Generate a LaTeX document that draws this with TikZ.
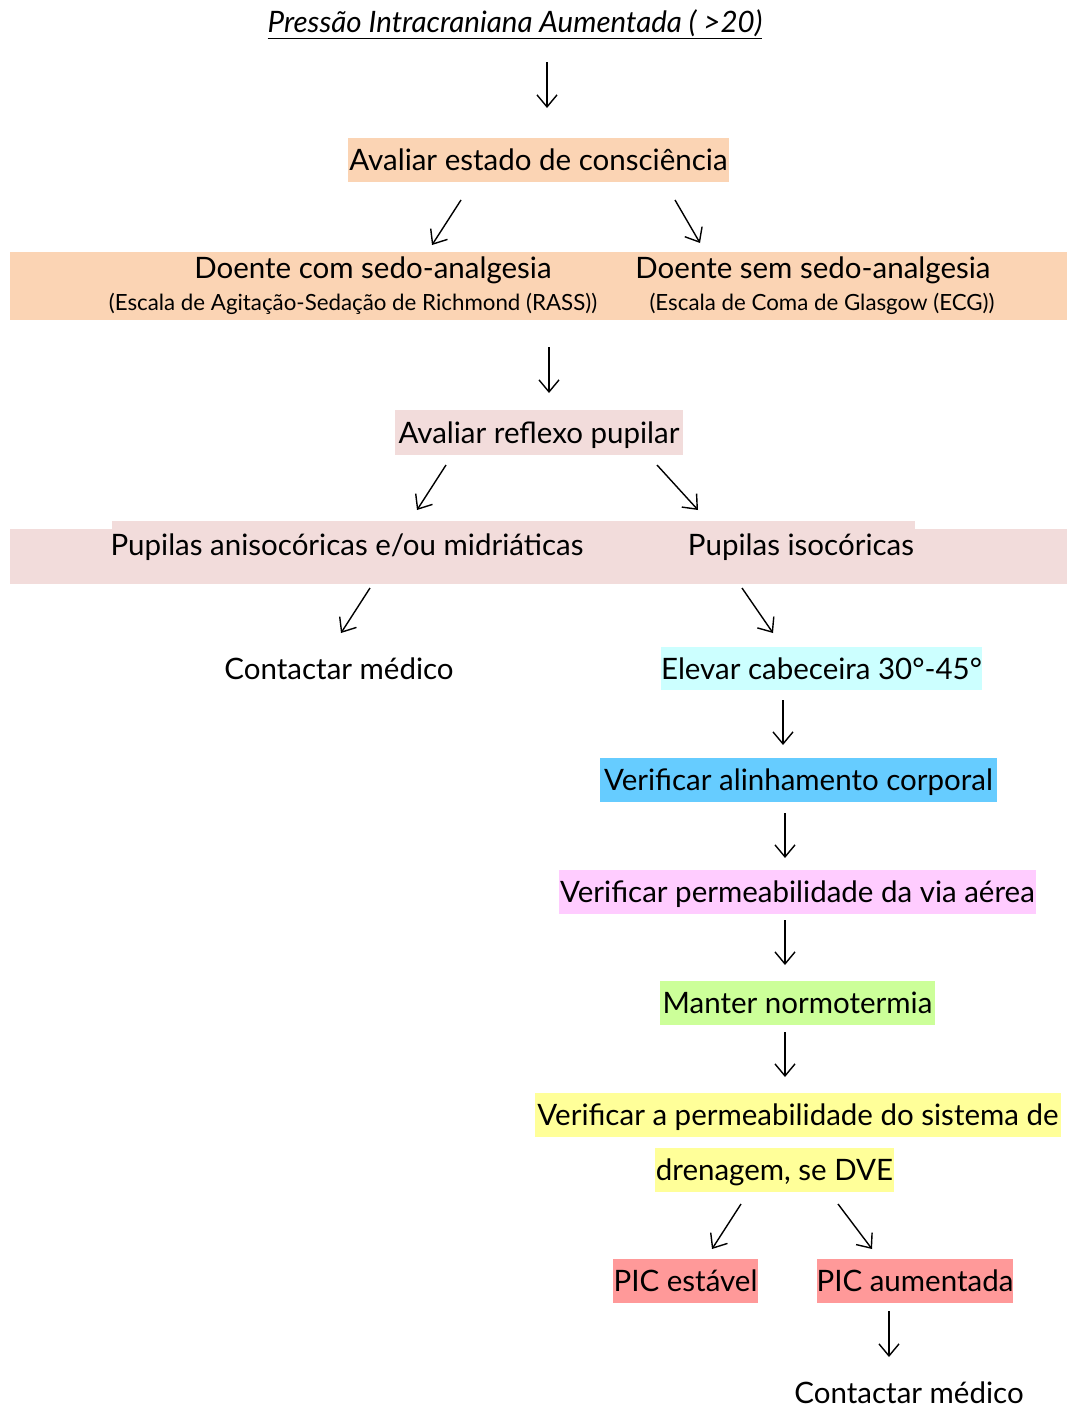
\documentclass[tikz,border=0pt]{standalone}
\usepackage{fontspec}
\setmainfont{Lato}
\usetikzlibrary{arrows.meta}
\definecolor{peach}{HTML}{FBD4B4}
\definecolor{rose}{HTML}{F2DCDB}
\definecolor{cyanl}{HTML}{CCFFFF}
\definecolor{bluel}{HTML}{66CCFF}
\definecolor{magl}{HTML}{FFCCFF}
\definecolor{greenl}{HTML}{CCFF99}
\definecolor{yell}{HTML}{FFFF99}
\definecolor{redl}{HTML}{FF9999}
\tikzset{
  main/.style={inner sep=0pt, font=\fontsize{29.5}{34}\selectfont, text height=22pt, text depth=1pt},
  sub/.style={inner sep=0pt, font=\fontsize{22.3}{26}\selectfont, text height=16pt, text depth=1pt},
  hbox/.style={main, minimum height=44pt},
  arr/.style={line width=1.4pt, -{Straight Barb[length=12pt,width=20pt,line width=1.4pt]}}
}
\begin{document}
\begin{tikzpicture}[x=1pt,y=-1pt]
\useasboundingbox (0,0) rectangle (1071,1408);
% title
\node[inner sep=0pt, font=\fontsize{29.5}{34}\selectfont\itshape, text height=22pt, text depth=1pt] (title) at (515,22) {\underline{Pressão Intracraniana Aumentada ( >20)}};
\coordinate (a1s) at (547,62); \coordinate (a1e) at (547,108);
\draw[arr] (a1s) -- (a1e);
% consciousness
\node[hbox, fill=peach, minimum width=381pt] (cons) at (538.5,160) {Avaliar estado de consciência};
\coordinate (a2s) at (461,200); \coordinate (a2e) at (432,245);
\coordinate (a3s) at (675,200); \coordinate (a3e) at (700,243);
\draw[arr] (a2s) -- (a2e);
\draw[arr] (a3s) -- (a3e);
% peach band
\node[inner sep=0pt, fill=peach, minimum width=1057pt, minimum height=68pt] (band1) at (538.5,286) {};
\node[main] (t1) at (373,268) {Doente com sedo-analgesia};
\node[sub] (s1) at (353,303) {(Escala de Agitação-Sedação de Richmond (RASS))};
\node[main] (t2) at (813,268) {Doente sem sedo-analgesia};
\node[sub] (s2) at (822,303) {(Escala de Coma de Glasgow (ECG))};
\coordinate (a4s) at (549,347); \coordinate (a4e) at (549,393);
\draw[arr] (a4s) -- (a4e);
% pupil reflex
\node[hbox, fill=rose, minimum width=288pt, minimum height=45pt] (refl) at (539,432.5) {Avaliar reflexo pupilar};
\coordinate (a5s) at (446,465); \coordinate (a5e) at (417,510);
\coordinate (a6s) at (657,465); \coordinate (a6e) at (698,510);
\draw[arr] (a5s) -- (a5e);
\draw[arr] (a6s) -- (a6e);
% pink band
\fill[rose] (10,529) rectangle (1067,584);
\fill[rose] (112,521) rectangle (915,584);
\node[main] (p1) at (347,545) {Pupilas anisocóricas e/ou midriáticas};
\node[main] (p2) at (801,545) {Pupilas isocóricas};
\coordinate (a7s) at (370,588); \coordinate (a7e) at (341,633);
\coordinate (a8s) at (742,588); \coordinate (a8e) at (773,633);
\draw[arr] (a7s) -- (a7e);
\draw[arr] (a8s) -- (a8e);
\node[main] (contact1) at (339,669) {Contactar médico};
% right column
\node[hbox, fill=cyanl, minimum width=315pt, minimum height=43pt] (elev) at (821.5,668.5) {Elevar cabeceira 30°-45°};
\coordinate (a9s) at (783,700); \coordinate (a9e) at (783,745);
\draw[arr] (a9s) -- (a9e);
\node[hbox, fill=bluel, minimum width=397pt] (alin) at (798.5,780) {Verificar alinhamento corporal};
\coordinate (a10s) at (785,813); \coordinate (a10e) at (785,858);
\draw[arr] (a10s) -- (a10e);
\node[hbox, fill=magl, minimum width=477pt] (perm) at (797.5,892) {Verificar permeabilidade da via aérea};
\coordinate (a11s) at (785,920); \coordinate (a11e) at (785,965);
\draw[arr] (a11s) -- (a11e);
\node[hbox, fill=greenl, minimum width=275pt] (norm) at (797.5,1003) {Manter normotermia};
\coordinate (a12s) at (785,1032); \coordinate (a12e) at (785,1077);
\draw[arr] (a12s) -- (a12e);
\node[hbox, fill=yell, minimum width=526pt] (dren1) at (798,1115) {Verificar a permeabilidade do sistema de};
\node[hbox, fill=yell, minimum width=239pt] (dren2) at (774.5,1170) {drenagem, se DVE};
\coordinate (a13s) at (741,1204); \coordinate (a13e) at (712,1249);
\coordinate (a14s) at (838,1204); \coordinate (a14e) at (872,1249);
\draw[arr] (a13s) -- (a13e);
\draw[arr] (a14s) -- (a14e);
\node[hbox, fill=redl, minimum width=145pt] (pic1) at (685.5,1281) {PIC estável};
\node[hbox, fill=redl, minimum width=196pt] (pic2) at (915,1281) {PIC aumentada};
\coordinate (a15s) at (889,1311); \coordinate (a15e) at (889,1357);
\draw[arr] (a15s) -- (a15e);
\node[main] (contact2) at (909,1393) {Contactar médico};
\end{tikzpicture}
\end{document}
